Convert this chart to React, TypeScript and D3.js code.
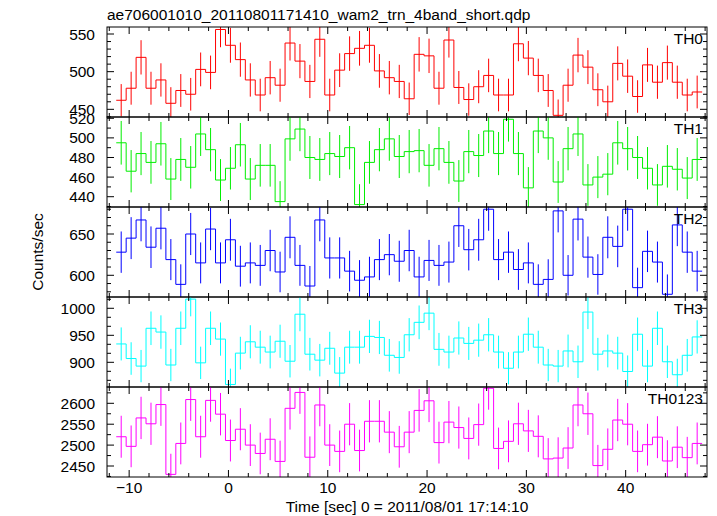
import React from "react";
import * as d3 from "d3";

// centre of first 1-s bin (seconds from 2011/08/01 17:14:10)
const FIRST_BIN_CENTER = -10.8;
const BIN_WIDTH = 1;

const TITLE = "ae706001010_20110801171410_wam2_trn_4band_short.qdp";
const X_LABEL = "Time [sec] 0 = 2011/08/01 17:14:10";
const Y_LABEL = "Counts/sec";

const X_TICKS = [-10, 0, 10, 20, 30, 40];

const TH0 = [
  462, 478, 519, 478, 489, 458, 475, 470, 503, 499,
  556, 535, 516, 489, 469, 492, 482, 538, 514, 487,
  543, 469, 502, 524, 531, 535, 501, 492, 487, 464,
  523, 521, 478, 542, 479, 463, 480, 495, 469, 469,
  537, 518, 495, 475, 442, 482, 522, 506, 476, 460,
  511, 494, 467, 509, 486, 512, 486, 469, 473,
];
const TH1 = [
  495, 466, 484, 475, 494, 458, 478, 470, 504, 488,
  457, 469, 493, 458, 472, 472, 435, 499, 509, 480,
  478, 484, 481, 490, 432, 475, 488, 499, 481, 486,
  487, 472, 489, 475, 456, 486, 482, 507, 484, 519,
  484, 449, 507, 500, 455, 489, 504, 452, 460, 463,
  495, 489, 480, 469, 452, 471, 468, 459, 478,
];
const TH2 = [
  628, 645, 667, 634, 657, 619, 589, 650, 615, 656,
  615, 643, 611, 615, 612, 630, 604, 646, 612, 587,
  667, 621, 621, 605, 594, 598, 619, 625, 617, 630,
  598, 618, 612, 616, 660, 631, 643, 680, 619, 628,
  607, 615, 589, 595, 678, 600, 668, 622, 601, 646,
  635, 680, 585, 629, 616, 577, 661, 628, 605,
];
const TH3 = [
  934, 907, 893, 963, 956, 895, 963, 1017, 899, 963,
  943, 859, 917, 938, 928, 919, 939, 902, 989, 915,
  904, 926, 880, 928, 928, 948, 946, 913, 909, 951,
  974, 991, 924, 919, 945, 935, 941, 951, 919, 889,
  919, 952, 928, 895, 893, 921, 901, 993, 915, 921,
  917, 883, 952, 893, 963, 901, 877, 913, 947,
];
const TH0123 = [
  2520, 2497, 2565, 2551, 2597, 2430, 2504, 2609, 2520, 2607,
  2574, 2511, 2538, 2500, 2480, 2514, 2461, 2588, 2626, 2471,
  2596, 2500, 2485, 2550, 2487, 2557, 2557, 2531, 2496, 2531,
  2583, 2606, 2506, 2555, 2542, 2516, 2549, 2636, 2492, 2509,
  2551, 2534, 2521, 2467, 2469, 2493, 2596, 2575, 2451, 2490,
  2560, 2550, 2485, 2501, 2519, 2462, 2495, 2470, 2504,
];

const PANEL_NAMES = ["TH0", "TH1", "TH2", "TH3", "TH0123"];
const PANEL_SERIES = [TH0, TH1, TH2, TH3, TH0123];
const PANEL_COLORS = ["#ff0000", "#00ee00", "#0000ff", "#00ffff", "#ff00ff"];
const PANEL_DOMAINS: [number, number][] = [
  [439.8, 559.3],
  [429.5, 521.3],
  [573.7, 682.7],
  [854.3, 1020.9],
  [2423.7, 2639.0],
];
const PANEL_MAJOR_TICKS = [
  [450, 500, 550],
  [440, 460, 480, 500, 520],
  [600, 650],
  [900, 950, 1000],
  [2450, 2500, 2550, 2600],
];
const PANEL_MINOR_STEP = [10, 10, 10, 50 / 3, 25];

const FONT = "'Liberation Sans', Arial, Helvetica, sans-serif";

export default function App() {
  const W = 717;
  const H = 516;
  const left = 107;
  const right = 707;
  const top = 27;
  const panelH = 90;
  const majorLen = 7;
  const minorLen = 4;

  const x = d3.scaleLinear().domain([-12.23, 48.19]).range([left, right]);
  const xMinor = d3.range(-12, 49, 2).filter((t) => !X_TICKS.includes(t));

  return (
    <svg
      width={W}
      height={H}
      style={{ position: "absolute", left: 0, top: 0, background: "#fff" }}
      fontFamily={FONT}
    >
      <rect x={0} y={0} width={W} height={H} fill="#fff" />
      <text x={left} y={20} fontSize={15.5} fill="#000">
        {TITLE}
      </text>
      {PANEL_SERIES.map((vals, p) => {
        const y0 = top + p * panelH;
        const y1 = y0 + panelH;
        const [dmin, dmax] = PANEL_DOMAINS[p];
        const y = d3.scaleLinear().domain([dmin, dmax]).range([y1, y0]);
        const color = PANEL_COLORS[p];
        const pts: [number, number][] = [];
        vals.forEach((v, i) => {
          const c = FIRST_BIN_CENTER + i * BIN_WIDTH;
          pts.push([c - BIN_WIDTH / 2, v]);
          pts.push([c + BIN_WIDTH / 2, v]);
        });
        const line = d3
          .line<[number, number]>()
          .x((d) => x(d[0]))
          .y((d) => y(d[1]));
        const step = d3.tickStep(0, 1, 1) * PANEL_MINOR_STEP[p];
        const minor: number[] = [];
        const k0 = Math.ceil(dmin / step - 1e-6);
        const k1 = Math.floor(dmax / step + 1e-6);
        for (let k = k0; k <= k1; k++) {
          const v = k * step;
          if (!PANEL_MAJOR_TICKS[p].some((m) => Math.abs(m - v) < 1e-6)) minor.push(v);
        }
        const clipId = `clip${p}`;
        return (
          <g key={p}>
            <clipPath id={clipId}>
              <rect x={left} y={y0} width={right - left} height={panelH} />
            </clipPath>
            <g clipPath={`url(#${clipId})`}>
              <path d={line(pts) || ""} fill="none" stroke={color} strokeWidth={1} />
              {vals.map((v, i) => {
                const c = x(FIRST_BIN_CENTER + i * BIN_WIDTH);
                const e = Math.sqrt(v);
                return (
                  <line
                    key={i}
                    x1={c}
                    x2={c}
                    y1={y(v - e)}
                    y2={y(v + e)}
                    stroke={color}
                    strokeWidth={1}
                  />
                );
              })}
            </g>
            <rect
              x={left}
              y={y0}
              width={right - left}
              height={panelH}
              fill="none"
              stroke="#000"
              strokeWidth={1}
            />
            {/* y ticks */}
            {PANEL_MAJOR_TICKS[p].map((v) => (
              <g key={`M${v}`}>
                <line x1={left} x2={left + majorLen} y1={y(v)} y2={y(v)} stroke="#000" />
                <line x1={right} x2={right - majorLen} y1={y(v)} y2={y(v)} stroke="#000" />
                <text
                  x={95}
                  y={y(v) + 5.5}
                  fontSize={15.5}
                  textAnchor="end"
                  fill="#000"
                >
                  {v}
                </text>
              </g>
            ))}
            {minor.map((v) => (
              <g key={`m${v}`}>
                <line x1={left} x2={left + minorLen} y1={y(v)} y2={y(v)} stroke="#000" />
                <line x1={right} x2={right - minorLen} y1={y(v)} y2={y(v)} stroke="#000" />
              </g>
            ))}
            {/* x ticks top & bottom */}
            {X_TICKS.map((t) => (
              <g key={`xt${t}`}>
                <line x1={x(t)} x2={x(t)} y1={y0} y2={y0 + majorLen} stroke="#000" />
                <line x1={x(t)} x2={x(t)} y1={y1} y2={y1 - majorLen} stroke="#000" />
              </g>
            ))}
            {xMinor.map((t) => (
              <g key={`xm${t}`}>
                <line x1={x(t)} x2={x(t)} y1={y0} y2={y0 + minorLen} stroke="#000" />
                <line x1={x(t)} x2={x(t)} y1={y1} y2={y1 - minorLen} stroke="#000" />
              </g>
            ))}
            <text x={703} y={y0 + 16.5} fontSize={15.5} textAnchor="end" fill="#000">
              {PANEL_NAMES[p]}
            </text>
          </g>
        );
      })}
      {X_TICKS.map((t) => (
        <text
          key={`xl${t}`}
          x={x(t)}
          y={493}
          fontSize={15.5}
          textAnchor="middle"
          fill="#000"
        >
          {t < 0 ? `\u2212${Math.abs(t)}` : `${t}`}
        </text>
      ))}
      <text x={(left + right) / 2} y={512} fontSize={15.5} textAnchor="middle" fill="#000">
        {X_LABEL}
      </text>
      <text
        transform={`translate(43,252) rotate(-90)`}
        fontSize={15.5}
        textAnchor="middle"
        fill="#000"
      >
        {Y_LABEL}
      </text>
    </svg>
  );
}
